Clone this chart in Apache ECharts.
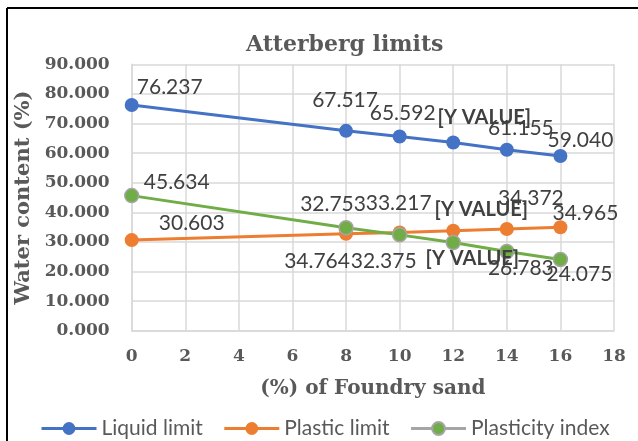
<!DOCTYPE html>
<html>
<head>
<meta charset="utf-8">
<script src="https://cdn.jsdelivr.net/npm/echarts@6/dist/echarts.min.js"></script>
<style>
html,body{margin:0;padding:0;background:#fff;}
#chart{width:638px;height:441px;}
</style>
</head>
<body>
<div id="chart"></div>
<script>
// ---- data ----
const sandPercent = [0, 8, 10, 12, 14, 16];
const liquidLimit = [76.237, 67.517, 65.592, 63.6, 61.155, 59.040];
const plasticLimit = [30.603, 32.753, 33.217, 33.8, 34.372, 34.965];
const plasticityIndex = [45.634, 34.764, 32.375, 29.8, 26.783, 24.075];
const seriesNames = ['Liquid limit', 'Plastic limit', 'Plasticity index'];
const placeholderX = [12];           // points whose label shows "[Y VALUE]"
const placeholderText = '[Y VALUE]';
const chartTitle = 'Atterberg limits';
const xAxisTitle = '(%) of Foundry sand';
const yAxisTitle = 'Water content (%)';

// ---- label offsets (style) ----
const liquidOffsets = [[38,-18],[-1,-31],[3,-23],[31,-25],[14,-21],[20,-16]];
const plasticOffsets = [[60,-17],[-13,-30],[-1,-29],[28,-21],[24,-31],[25,-14]];
const indexOffsets = [[45,-13],[-29,33],[-16,26],[19,16],[14,17],[19,15]];

const serifFont = '"DejaVu Serif", serif';
const sansFont = 'Lato, "Open Sans", sans-serif';
const axisGray = '#595959';

function buildData(values, offsets) {
  return sandPercent.map((x, i) => {
    const isPh = placeholderX.indexOf(x) >= 0;
    return {
      value: [x, values[i]],
      label: {
        offset: offsets[i],
        fontWeight: isPh ? 'bold' : 'normal',
        fontSize: isPh ? 20 : 21
      }
    };
  });
}
function labelFormatter(p) {
  if (placeholderX.indexOf(p.value[0]) >= 0) return placeholderText;
  return p.value[1].toFixed(3);
}
function makeSeries(name, values, offsets, color, borderColor, z) {
  return {
    name: name,
    type: 'line',
    data: buildData(values, offsets),
    symbol: 'circle',
    symbolSize: 14,
    z: z,
    lineStyle: { color: color, width: 3 },
    itemStyle: { color: color, borderColor: borderColor, borderWidth: borderColor === color ? 0 : 1.5 },
    label: {
      show: true,
      position: 'inside',
      formatter: labelFormatter,
      fontFamily: sansFont,
      fontSize: 21,
      color: '#404040',
      align: 'center',
      verticalAlign: 'middle'
    },
    emphasis: { disabled: true },
    animation: false
  };
}

const chart = echarts.init(document.getElementById('chart'), null, { renderer: 'canvas' });
chart.setOption({
  backgroundColor: '#fff',
  animation: false,
  title: {
    text: chartTitle,
    left: 241,
    top: 29,
    textStyle: { fontFamily: serifFont, fontWeight: 'bold', fontSize: 22, color: axisGray }
  },
  graphic: [
    { type: 'line', shape: { x1: 7, y1: 8, x2: 638, y2: 8 }, style: { stroke: '#000', lineWidth: 2 } },
    { type: 'line', shape: { x1: 7, y1: 8, x2: 7, y2: 441 }, style: { stroke: '#000', lineWidth: 2 } }
  ],
  grid: { left: 131.7, right: 24, top: 64.3, bottom: 110.3, containLabel: false },
  legend: {
    top: 413,
    left: 35,
    itemWidth: 55,
    itemHeight: 16,
    itemGap: 20,
    textStyle: { fontFamily: sansFont, fontSize: 21, color: axisGray },
    data: [
      { name: seriesNames[0], lineStyle: { width: 3 } },
      { name: seriesNames[1], lineStyle: { width: 3 } },
      { name: seriesNames[2], lineStyle: { color: '#A5A5A5', width: 3 } }
    ]
  },
  xAxis: {
    type: 'value',
    min: 0, max: 18, interval: 2,
    name: xAxisTitle,
    nameLocation: 'middle',
    nameGap: 48,
    nameTextStyle: { fontFamily: serifFont, fontWeight: 'bold', fontSize: 20, color: axisGray },
    axisLine: { show: true, lineStyle: { color: '#d9d9d9', width: 1.5 } },
    axisTick: { show: false },
    axisLabel: { fontFamily: serifFont, fontWeight: 'bold', fontSize: 17, color: axisGray, margin: 17 },
    splitLine: { show: true, lineStyle: { color: '#d9d9d9', width: 1.5 } }
  },
  yAxis: {
    type: 'value',
    min: 0, max: 90, interval: 10,
    name: yAxisTitle,
    nameLocation: 'middle',
    nameGap: 88,
    nameTextStyle: { fontFamily: serifFont, fontWeight: 'bold', fontSize: 21, color: axisGray },
    axisLine: { show: true, lineStyle: { color: '#d9d9d9', width: 1.5 } },
    axisTick: { show: false },
    axisLabel: { fontFamily: serifFont, fontWeight: 'bold', fontSize: 17, color: axisGray, margin: 22,
      formatter: v => v.toFixed(3) },
    splitLine: { show: true, lineStyle: { color: '#d9d9d9', width: 1.5 } }
  },
  series: [
    makeSeries(seriesNames[0], liquidLimit, liquidOffsets, '#4472C4', '#4472C4', 2),
    makeSeries(seriesNames[1], plasticLimit, plasticOffsets, '#ED7D31', '#ED7D31', 3),
    makeSeries(seriesNames[2], plasticityIndex, indexOffsets, '#70AD47', '#A5A5A5', 4)
  ]
});
</script>
</body>
</html>
